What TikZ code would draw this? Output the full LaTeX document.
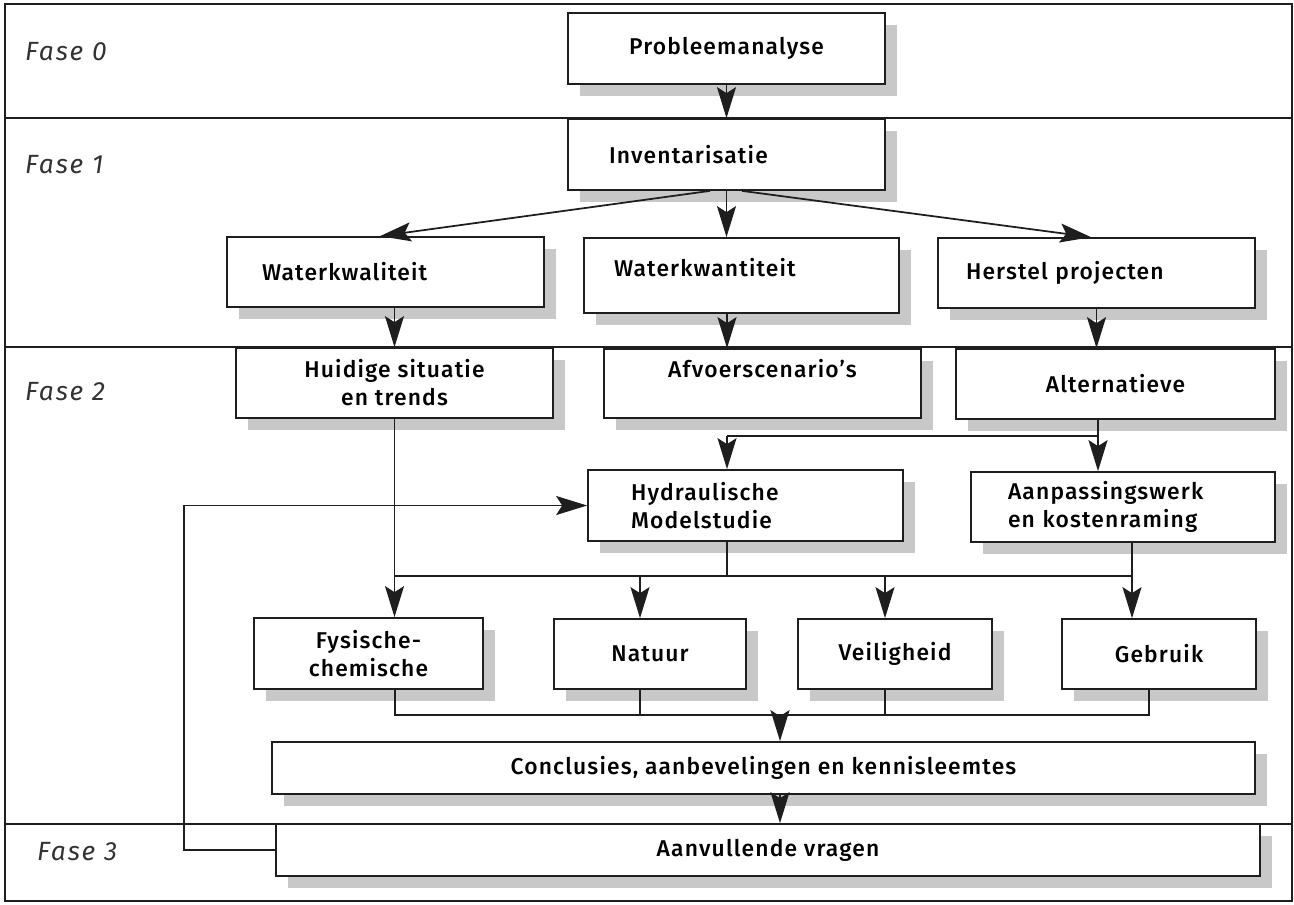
\documentclass[tikz,border=0pt]{standalone}
\usepackage{fontspec}
\setmainfont{Fira Sans}
\newfontfamily\blokfont{Fira Sans Medium}[LetterSpace=5]
\newfontfamily\fasefont{Fira Sans}[LetterSpace=7]
\usepackage{tikz}
\usetikzlibrary{arrows.meta, shadows}
\definecolor{schaduw}{HTML}{C8C8C8}
\definecolor{lijnkleur}{HTML}{1E1E1E}

\begin{document}
\begin{tikzpicture}[
    x=0.02cm, y=-0.02cm,
    blok/.style={draw=lijnkleur, line width=1pt, fill=white, align=center, inner sep=0pt,
                 font=\blokfont\fontsize{13}{16}\selectfont,
                 drop shadow={fill=schaduw, opacity=1, shadow xshift=0.24cm, shadow yshift=-0.24cm}},
    links/.style={align=left, inner xsep=#1},
    fase/.style={anchor=west, font=\fasefont\itshape\fontsize{15}{17}\selectfont, text=black!80},
    lijn/.style={draw=lijnkleur, line width=1pt},
    pijl/.style={lijn, -{Stealth[length=0.62cm, width=0.38cm, inset=0.12cm]}}
]
    \useasboundingbox (0,0) rectangle (1294,904);

    % kader en fasen
    \draw[lijn] (5,4) rectangle (1292,901);
    \draw[lijn] (5,118) -- (1292,118);
    \draw[lijn] (5,347) -- (1292,347);
    \draw[lijn] (5,824) -- (1292,824);
    \node[fase] (f0) at (19,52) {Fase 0};
    \node[fase] (f1) at (19,165) {Fase 1};
    \node[fase] (f2) at (19,392) {Fase 2};
    \node[fase] (f3) at (31,852) {Fase 3};

    % blokken
    \node[blok, minimum width=6.34cm, minimum height=1.42cm] (prob) at (726.5,48.5) {Probleemanalyse};
    \node[blok, links=0.82cm, text width=4.7cm, minimum height=1.42cm] (inv) at (726.5,154.5) {Inventarisatie};
    \node[blok, links=0.7cm, text width=4.94cm, minimum height=1.4cm] (wkal) at (385.5,272) {Waterkwaliteit};
    \node[blok, links=0.6cm, text width=5.1cm, minimum height=1.5cm, text depth=0.32cm] (wkan) at (741.5,275.5) {Waterkwantiteit};
    \node[blok, links=0.56cm, text width=5.22cm, minimum height=1.4cm] (herst) at (1096.5,273) {Herstel projecten};
    \node[blok, minimum width=6.34cm, minimum height=1.4cm] (huid) at (394.5,383) {Huidige situatie\\en trends};
    \node[blok, minimum width=6.34cm, minimum height=1.38cm, text depth=0.62cm] (afv) at (762.5,383.5) {Afvoerscenario’s};
    \node[blok, minimum width=6.38cm, minimum height=1.4cm] (alt) at (1115.5,384) {Alternatieve};
    \node[blok, links=0.86cm, text width=4.58cm, minimum height=1.42cm] (hydr) at (745.5,505.5) {Hydraulische\\Modelstudie};
    \node[blok, links=0.74cm, text width=4.6cm, minimum height=1.4cm] (aanp) at (1123,507) {Aanpassingswerk\\en kostenraming};
    \node[blok, minimum width=4.58cm, minimum height=1.42cm] (fys) at (368.5,653.5) {Fysische-\\chemische};
    \node[blok, minimum width=3.84cm, minimum height=1.4cm] (nat) at (650,654) {Natuur};
    \node[blok, minimum width=3.88cm, minimum height=1.4cm] (veil) at (895,654) {Veiligheid};
    \node[blok, minimum width=3.88cm, minimum height=1.4cm] (gebr) at (1159,654) {Gebruik};
    \node[blok, minimum width=19.66cm, minimum height=1.04cm] (concl) at (763.5,768) {Conclusies, aanbevelingen en kennisleemtes};
    \node[blok, minimum width=19.68cm, minimum height=1.04cm] (aanv) at (768,850) {Aanvullende vragen};

    % knooppunten
    \coordinate (splits) at (1098,436);
    \coordinate (splitsl) at (727,436);
    \coordinate (m1l) at (395,576);
    \coordinate (m1r) at (1132,576);
    \coordinate (m2l) at (395,715);
    \coordinate (m2r) at (1149,715);
    \coordinate (m2m) at (780,715);

    % verbindingen
    \draw[pijl] (prob.south) -- (inv.north);
    \draw[pijl] ([xshift=-0.33cm]inv.south) -- ([xshift=-0.11cm]wkal.north);
    \draw[pijl] (inv.south) -- (inv.south |- wkan.north);
    \draw[pijl] ([xshift=0.31cm]inv.south) -- ([xshift=-0.11cm]herst.north);
    \draw[pijl] (huid.north |- wkal.south) -- (huid.north);
    \draw[pijl] ([xshift=-0.29cm]wkan.south) -- ([xshift=-0.29cm]wkan.south |- afv.north);
    \draw[pijl] (herst.south) -- (herst.south |- alt.north);

    \draw[lijn] (splits |- alt.south) -- (splits) -- (splitsl);
    \draw[pijl] (splitsl) -- (splitsl |- hydr.north);
    \draw[pijl] (splits) -- (splits |- aanp.north);

    \draw[pijl] (huid.south) -- (huid.south |- fys.north);
    \draw[lijn] (splitsl |- hydr.south) -- (splitsl |- m1l);
    \draw[pijl] (m1r |- aanp.south) -- (m1r |- gebr.north);
    \draw[lijn] (m1l) -- (m1r);
    \draw[pijl] ([xshift=-0.2cm]nat.north |- m1l) -- ([xshift=-0.2cm]nat.north);
    \draw[pijl] ([xshift=-0.2cm]veil.north |- m1l) -- ([xshift=-0.2cm]veil.north);

    \draw[lijn] (m2l |- fys.south) -- (m2l) -- (m2r) -- (m2r |- gebr.south);
    \draw[lijn] ([xshift=-0.2cm]nat.south) -- ([xshift=-0.2cm]nat.south |- m2l);
    \draw[lijn] ([xshift=-0.2cm]veil.south) -- ([xshift=-0.2cm]veil.south |- m2l);
    \draw[pijl] (m2m) -- (m2m |- concl.north);
    \draw[pijl] (m2m |- concl.south) -- (m2m |- aanv.north);

    % terugkoppeling
    \draw[pijl] (aanv.west) -- ++(-91,0) |- (hydr.west);
\end{tikzpicture}
\end{document}
